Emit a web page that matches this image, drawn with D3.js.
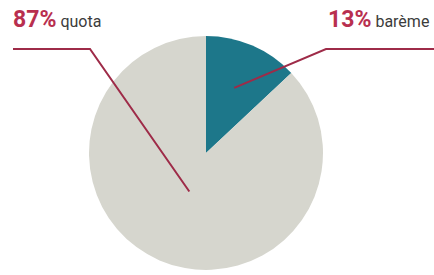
<!DOCTYPE html>
<html>
<head>
<meta charset="utf-8">
<script src="https://cdn.jsdelivr.net/npm/d3@7"></script>
<style>
  body { margin: 0; background: #fff; }
  svg { display: block; }
</style>
</head>
<body>
<div id="chart"></div>
<script>
// data
var labels = ["barème", "quota"];
var values = [13, 87];
var colors = ["#1d778a", "#d6d6ce"];

var width = 434, height = 275;
var cx = 206, cy = 153, radius = 117;

var svg = d3.select("#chart")
  .append("svg")
    .attr("width", width)
    .attr("height", height);

var g = svg.append("g")
  .attr("transform", "translate(" + cx + "," + cy + ")");

var pie = d3.pie().sort(null).value(function(d) { return d; });
var arcs = pie(values);

var arc = d3.arc().innerRadius(0).outerRadius(radius);

// slices
g.selectAll("path.slice")
  .data(arcs)
  .enter()
  .append("path")
    .attr("class", "slice")
    .attr("d", arc)
    .style("fill", function(d, i) { return colors[i]; });

// leader lines: point inside slice -> elbow -> horizontal to label side
var pointerR = [71, 42];
var elbow = [[326, 49], [90, 49]];
var lineEnd = [434, 13];

arcs.forEach(function(d, i) {
  var a = (d.startAngle + d.endAngle) / 2;
  var px = cx + Math.sin(a) * pointerR[i];
  var py = cy - Math.cos(a) * pointerR[i];
  svg.append("polyline")
    .attr("points", [[px, py], elbow[i], [lineEnd[i], elbow[i][1]]].map(function(p) { return p.join(","); }).join(" "))
    .style("fill", "none")
    .style("stroke", "#9e2b48")
    .style("stroke-width", 2);
});

// labels
var labelX = [328, 13];
arcs.forEach(function(d, i) {
  var t = svg.append("text")
    .attr("x", labelX[i])
    .attr("y", 27)
    .style("font-family", "Roboto, 'Open Sans', sans-serif");
  t.append("tspan")
    .style("font-size", "23px")
    .style("font-weight", "bold")
    .style("fill", "#b82f4f")
    .text(values[i] + "%");
  t.append("tspan")
    .attr("dx", 4)
    .style("font-size", "16px")
    .style("fill", "#3c3c3c")
    .text(labels[i]);
});
</script>
</body>
</html>
